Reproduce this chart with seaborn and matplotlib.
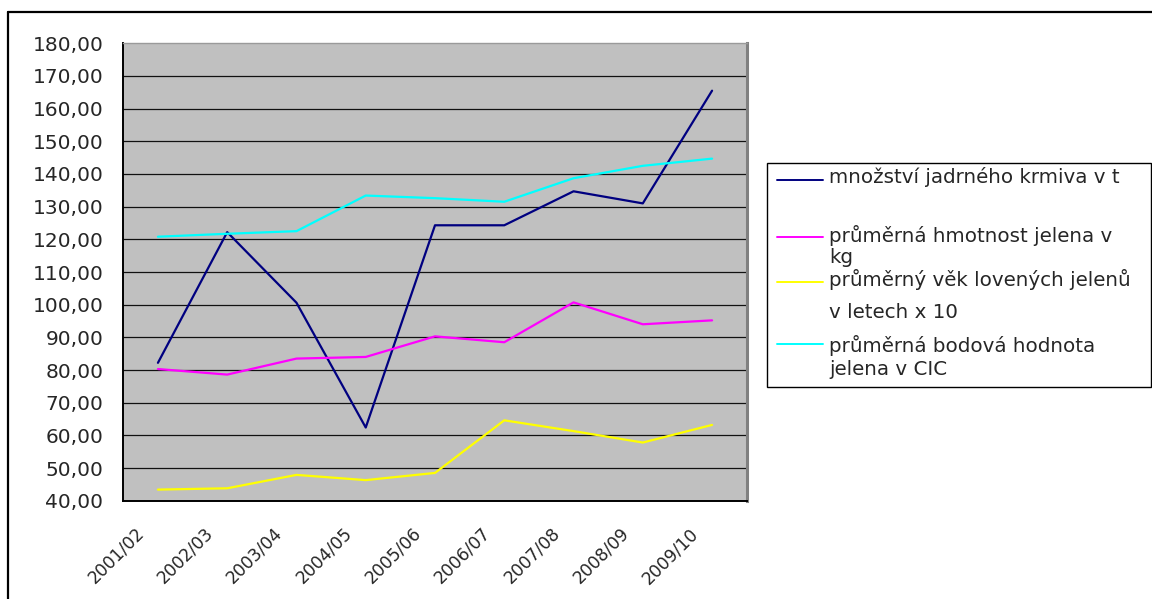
import numpy as np
import pandas as pd
import seaborn as sns
import matplotlib.pyplot as plt
import matplotlib.transforms as mtransforms
from matplotlib.ticker import FixedLocator, FuncFormatter
from matplotlib.lines import Line2D

# -----------------------------------------------------
# Data
# -----------------------------------------------------

seasons = ["2001/02", "2002/03", "2003/04", "2004/05", "2005/06",
           "2006/07", "2007/08", "2008/09", "2009/10"]

krmivo = [82.2, 122.2, 100.6, 62.4, 124.3, 124.3, 134.7, 131.0, 165.5]
hmotnost = [80.3, 78.6, 83.5, 84.0, 90.3, 88.5, 100.7, 94.0, 95.2]
vek_x10 = [43.4, 43.8, 47.9, 46.3, 48.5, 64.6, 61.3, 57.8, 63.2]
body_cic = [120.8, 121.7, 122.5, 133.4, 132.6, 131.5, 138.7, 142.5, 144.7]

series_names = ["množství jadrného krmiva v t",
                "průměrná hmotnost jelena v kg",
                "průměrný věk lovených jelenů v letech x 10",
                "průměrná bodová hodnota jelena v CIC"]
legend_lines = [["množství jadrného krmiva v t"],
                ["průměrná hmotnost jelena v", "kg"],
                ["průměrný věk lovených jelenů", "v letech x 10"],
                ["průměrná bodová hodnota", "jelena v CIC"]]
colors = ["#000080", "#FF00FF", "#FFFF00", "#00FFFF"]

df = pd.DataFrame({
    "idx": list(range(len(seasons))) * 4,
    "value": krmivo + hmotnost + vek_x10 + body_cic,
    "series": [s for s in series_names for _ in seasons],
})

# -----------------------------------------------------
# Figure
# -----------------------------------------------------

sns.set_style("white")
plt.rcParams["font.family"] = ["DejaVu Sans"]

W, H = 1152, 599
fig = plt.figure(figsize=(W / 100, H / 100), dpi=100)


def fx(x):
    return x / W


def fy(y):
    return 1 - y / H


ax = fig.add_axes([fx(123.3), fy(500.7), (746.7 - 123.3) / W, (500.7 - 43.3) / H])
ax.set_facecolor("#C0C0C0")

sns.lineplot(data=df, x="idx", y="value", hue="series", hue_order=series_names,
             palette=dict(zip(series_names, colors)), linewidth=1.6,
             sort=False, legend=False, ax=ax)

ax.set_xlim(-0.5, len(seasons) - 0.5)
ax.set_ylim(40, 180)
ax.set_xlabel("")
ax.set_ylabel("")

yt = list(range(40, 181, 10))
ax.yaxis.set_major_locator(FixedLocator(yt))
ax.yaxis.set_major_formatter(FuncFormatter(lambda v, p: f"{v:.2f}".replace(".", ",")))
for v in yt[1:-1]:
    ax.axhline(v, color="#111111", linewidth=0.9, zorder=1)
ax.tick_params(axis="y", direction="out", length=5.8, width=1, color="black",
               pad=8.5, labelsize=14.5)

ax.set_xticks(range(len(seasons)))
ax.set_xticklabels(seasons)
ax.xaxis.set_minor_locator(FixedLocator(np.arange(-0.5, len(seasons), 1.0)))
ax.tick_params(axis="x", which="major", length=0, pad=0, labelsize=12.3)
ax.tick_params(axis="x", which="minor", direction="out", length=4, width=1, color="black")
offset = mtransforms.ScaledTranslation(-0.23, -0.235, fig.dpi_scale_trans)
for lab in ax.get_xticklabels():
    lab.set_rotation(45)
    lab.set_ha("right")
    lab.set_va("top")
    lab.set_rotation_mode("anchor")
    lab.set_transform(lab.get_transform() + offset)

for side in ["left", "bottom"]:
    ax.spines[side].set_color("black")
    ax.spines[side].set_linewidth(1.4)
ax.spines["top"].set_color("#9a9a9a")
ax.spines["top"].set_linewidth(1.0)
ax.spines["right"].set_color("#808080")
ax.spines["right"].set_linewidth(2.2)

# -----------------------------------------------------
# Legend box (Excel style, manual)
# -----------------------------------------------------

fig.add_artist(plt.Rectangle((fx(767), fy(387)), (1151 - 767) / W, (387 - 163) / H,
                             transform=fig.transFigure, facecolor="white",
                             edgecolor="black", linewidth=1.0))
handle_y = [180, 237, 282, 344]
baselines = [[183], [242, 263], [286, 318], [352, 375]]
for color, hy, lines, bls in zip(colors, handle_y, legend_lines, baselines):
    fig.add_artist(Line2D([fx(777), fx(823)], [fy(hy), fy(hy)], color=color,
                          linewidth=1.4, transform=fig.transFigure))
    for txt, bl in zip(lines, bls):
        fig.text(fx(829), fy(bl), txt, fontsize=14.3, va="baseline", ha="left")

# outer chart frame (top and left edges visible)
fig.add_artist(Line2D([fx(8), fx(8)], [fy(12), 0], color="black", linewidth=1.6,
                      transform=fig.transFigure))
fig.add_artist(Line2D([fx(8), 1], [fy(12), fy(12)], color="black", linewidth=1.6,
                      transform=fig.transFigure))

fig.savefig("out.png", dpi=100)
